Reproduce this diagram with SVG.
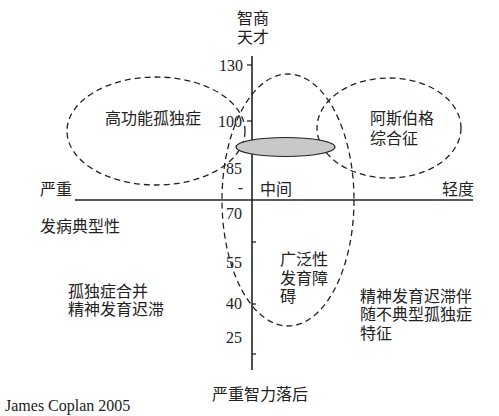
<svg xmlns="http://www.w3.org/2000/svg" width="499" height="416" viewBox="0 0 499 416">
<style>
.cjk{font-family:"Noto Sans CJK SC","Noto Sans",sans-serif;font-size:16px;fill:#222;dominant-baseline:central}
.num{font-family:"Liberation Serif",serif;font-size:16px;fill:#222;dominant-baseline:central;text-anchor:end}
.dash{fill:none;stroke:#222;stroke-width:1.3;stroke-dasharray:6 4}
.axis{stroke:#222;stroke-width:1.6;fill:none}
.tick{stroke:#222;stroke-width:1.3}
</style>
<rect width="499" height="416" fill="#fff"/>
<g id="axes">
<line class="axis" x1="252" y1="56" x2="252" y2="370"/>
<line class="axis" x1="75" y1="200" x2="473" y2="200"/>
<line class="tick" x1="247" y1="65" x2="252" y2="65"/>
<line class="tick" x1="247" y1="121" x2="252" y2="121"/>
<line class="tick" x1="252" y1="242" x2="256" y2="242"/>
<line class="tick" x1="252" y1="304" x2="256" y2="304"/>
<line class="tick" x1="252" y1="354" x2="256" y2="354"/>
<text class="num" x="243" y="65">130</text>
<text class="num" x="242" y="121">100</text>
<text class="num" x="242" y="168">85</text>
<text class="num" x="243" y="187">-</text>
<text class="num" x="242" y="213">70</text>
<text class="num" x="242" y="262">55</text>
<text class="num" x="242" y="303">40</text>
<text class="num" x="242" y="337">25</text>
<text class="cjk" x="253" text-anchor="middle"><tspan x="253" y="17">智商</tspan><tspan x="253" y="36">天才</tspan></text>
<text class="cjk" x="40" y="188">严重</text>
<text class="cjk" x="260" y="188">中间</text>
<text class="cjk" x="442" y="188">轻度</text>
<text class="cjk" x="212" y="393">严重智力落后</text>
</g>
<g id="hfa">
<ellipse class="dash" cx="156" cy="131" rx="89" ry="54"/>
<text class="cjk" x="105" y="117">高功能孤独症</text>
</g>
<g id="pdd">
<ellipse class="dash" cx="288" cy="200" rx="66" ry="126"/>
<text class="cjk"><tspan x="280" y="258">广泛性</tspan><tspan x="280" y="277">发育障</tspan><tspan x="280" y="295">碍</tspan></text>
</g>
<g id="asperger">
<ellipse class="dash" cx="389" cy="128" rx="72" ry="50"/>
<text class="cjk"><tspan x="370" y="117">阿斯伯格</tspan><tspan x="370" y="137">综合征</tspan></text>
</g>
<g id="middle">
<ellipse cx="285.5" cy="147" rx="49.5" ry="9.5" fill="#c8c8c8" stroke="#222" stroke-width="1.2"/>
</g>
<g id="typical">
<text class="cjk" x="40" y="225">发病典型性</text>
</g>
<g id="autism-mr">
<text class="cjk"><tspan x="68" y="290">孤独症合并</tspan><tspan x="68" y="308">精神发育迟滞</tspan></text>
</g>
<g id="mr-atypical">
<text class="cjk"><tspan x="360" y="295">精神发育迟滞伴</tspan><tspan x="360" y="313">随不典型孤独症</tspan><tspan x="360" y="332">特征</tspan></text>
</g>
<text x="5" y="405" font-family="Liberation Serif, serif" font-size="16" fill="#222" dominant-baseline="central">James Coplan 2005</text>
</svg>
